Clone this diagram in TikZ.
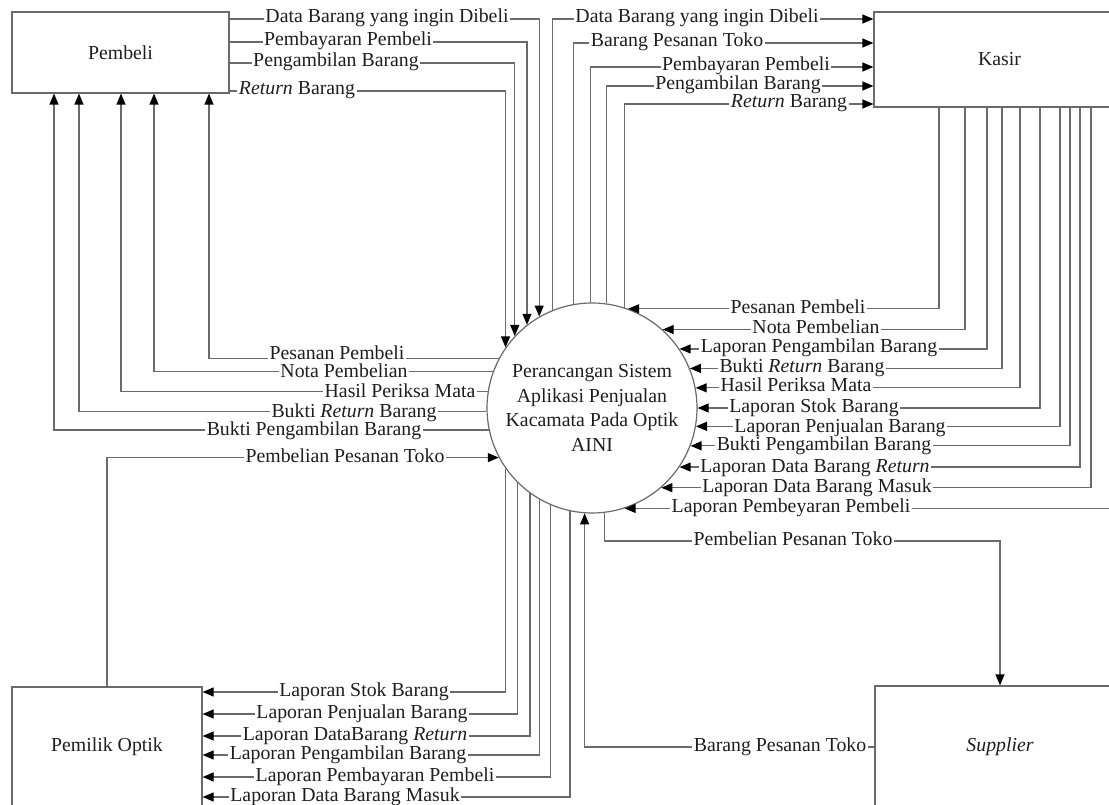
\documentclass[tikz,border=0pt]{standalone}
\usepackage{fontspec}
\setmainfont{Liberation Serif}
\usetikzlibrary{arrows.meta}
\definecolor{lncol}{HTML}{6A6A6A}
\definecolor{txcol}{HTML}{1E1E1E}
\newcommand\lbf{\fontsize{19.8}{22}\selectfont}
\tikzset{
  ln/.style={draw=lncol, line width=1.2pt},
  arr/.style={ln, -{Triangle[length=11pt,width=9pt,color=black]}},
  lab/.style={fill=white, text=txcol, font=\lbf, inner xsep=1.5pt, inner ysep=1pt, text height=8pt, text depth=0pt},
  entity/.style={draw=lncol, line width=1.2pt, fill=white, text=txcol, font=\lbf, inner sep=0pt},
  proc/.style={circle, draw=lncol, line width=1.2pt, fill=white, text=txcol, font=\fontsize{19.8}{24.4}\selectfont, align=center, inner sep=0pt, minimum size=210pt}
}
\begin{document}
\begin{tikzpicture}[x=1pt, y=-1pt, line join=miter]
\fill[white] (0,0) rectangle (1109,805);
\useasboundingbox (0,0) rectangle (1109,805);

% entities and process
\node[entity, minimum width=217pt, minimum height=81pt] (pb) at (120.5,52.5) {Pembeli};
\node[entity, minimum width=251pt, minimum height=95pt] (ks) at (999.5,59.5) {Kasir};
\node[entity, minimum width=190pt, minimum height=120pt] (po) at (107,747) {Pemilik Optik};
\node[entity, minimum width=250pt, minimum height=122pt] (sp) at (1000,747) {\itshape Supplier};
\node[proc] (c) at (592,408) {Perancangan Sistem\\Aplikasi Penjualan\\Kacamata Pada Optik\\AINI};

% Pembeli -> proses
\draw[arr] (pb.east |- 0,19) -| (c.120.95);
\draw[arr] (pb.east |- 0,42) -| (c.128.94);
\draw[arr] (pb.east |- 0,63) -| (c.137.98);
\draw[arr] (pb.east |- 0,91) -| (c.145.95);

% proses -> Pembeli
\draw[arr] (c.152.0) -| (pb.south -| 209,0);
\draw[arr] (c.160.53) -| (pb.south -| 154,0);
\draw[arr] (c.171.79) -| (pb.south -| 121,0);
\draw[arr] (c.182.73) -| (pb.south -| 79,0);
\draw[arr] (c.192.65) -| (pb.south -| 54,0);

% Pemilik Optik -> proses
\draw[arr] (po.north) |- (c.208.44);

% proses -> Kasir
\draw[arr] (c.112.98) |- (ks.west |- 0,19);
\draw[arr] (c.100.43) |- (ks.west |- 0,43);
\draw[arr] (c.91.64) |- (ks.west |- 0,67);
\draw[arr] (c.82.89) |- (ks.west |- 0,86);
\draw[arr] (c.72.83) |- (ks.west |- 0,104);

% Kasir -> proses
\draw[arr] (ks.south -| 939,0) |- (c.70.54);
\draw[arr] (ks.south -| 965,0) |- (c.48.80);
\draw[arr] (ks.south -| 987,0) |- (c.34.85);
\draw[arr] (ks.south -| 1002,0) |- (c.22.39);
\draw[arr] (ks.south -| 1020,0) |- (c.11.54);
\draw[arr] (ks.south -| 1040,0) |- (c.0);
\draw[arr] (ks.south -| 1060,0) |- (c.-10.98);
\draw[arr] (ks.south -| 1070,0) |- (c.-21.22);
\draw[arr] (ks.south -| 1080,0) |- (c.-34.85);
\draw[arr] (ks.south -| 1091,0) |- (c.-49.63);
\draw[arr] (ks.south -| 1113,0) |- (c.-72.25);

% proses -> Pemilik Optik
\draw[arr] (c.-145.95) |- (po.east |- 0,692);
\draw[arr] (c.-135.58) |- (po.east |- 0,714);
\draw[arr] (c.-126.87) |- (po.east |- 0,736);
\draw[arr] (c.-120.32) |- (po.east |- 0,755);
\draw[arr] (c.-113.58) |- (po.east |- 0,777);
\draw[arr] (c.-102.65) |- (po.east |- 0,797);

% Supplier
\draw[arr] (c.-83.44) -- (c.-83.44 |- 0,541) -| (sp.north);
\draw[arr] (sp.west) -| (c.-94.37);

% labels: Pembeli -> proses
\node[lab] (a1) at (387,19) {Data Barang yang ingin Dibeli};
\node[lab] (a2) at (348,42) {Pembayaran Pembeli};
\node[lab] (a3) at (336,63) {Pengambilan Barang};
\node[lab] (a4) at (297,91) {\textit{Return} Barang};
% proses -> Pembeli
\node[lab] (b1) at (337,355) {Pesanan Pembeli};
\node[lab] (b2) at (344,373) {Nota Pembelian};
\node[lab] (b3) at (400,393) {Hasil Periksa Mata};
\node[lab] (b4) at (354,413) {Bukti \textit{Return} Barang};
\node[lab] (b5) at (314,431) {Bukti Pengambilan Barang};
\node[lab] (b6) at (345,458) {Pembelian Pesanan Toko};
% proses -> Kasir
\node[lab] (k1) at (697,19) {Data Barang yang ingin Dibeli};
\node[lab] (k2) at (677,43) {Barang Pesanan Toko};
\node[lab] (k3) at (746,67) {Pembayaran Pembeli};
\node[lab] (k4) at (738,86) {Pengambilan Barang};
\node[lab] (k5) at (789,104) {\textit{Return} Barang};
% Kasir -> proses
\node[lab] (r1) at (798,309) {Pesanan Pembeli};
\node[lab] (r2) at (816,329) {Nota Pembelian};
\node[lab] (r3) at (819,348) {Laporan Pengambilan Barang};
\node[lab] (r4) at (802,368) {Bukti \textit{Return} Barang};
\node[lab] (r5) at (796,387) {Hasil Periksa Mata};
\node[lab] (r6) at (814,408) {Laporan Stok Barang};
\node[lab] (r7) at (840,428) {Laporan Penjualan Barang};
\node[lab] (r8) at (824,446) {Bukti Pengambilan Barang};
\node[lab] (r9) at (815,468) {Laporan Data Barang \textit{Return}};
\node[lab] (r10) at (817,488) {Laporan Data Barang Masuk};
\node[lab] (r11) at (791,508) {Laporan Pembeyaran Pembeli};
% proses -> Pemilik Optik
\node[lab] (o1) at (364,692) {Laporan Stok Barang};
\node[lab] (o2) at (362,714) {Laporan Penjualan Barang};
\node[lab] (o3) at (355,736) {Laporan DataBarang \textit{Return}};
\node[lab] (o4) at (348,755) {Laporan Pengambilan Barang};
\node[lab] (o5) at (375,777) {Laporan Pembayaran Pembeli};
\node[lab] (o6) at (345,797) {Laporan Data Barang Masuk};
% Supplier
\node[lab] (s1) at (793,541) {Pembelian Pesanan Toko};
\node[lab] (s2) at (780,747) {Barang Pesanan Toko};
\end{tikzpicture}
\end{document}
